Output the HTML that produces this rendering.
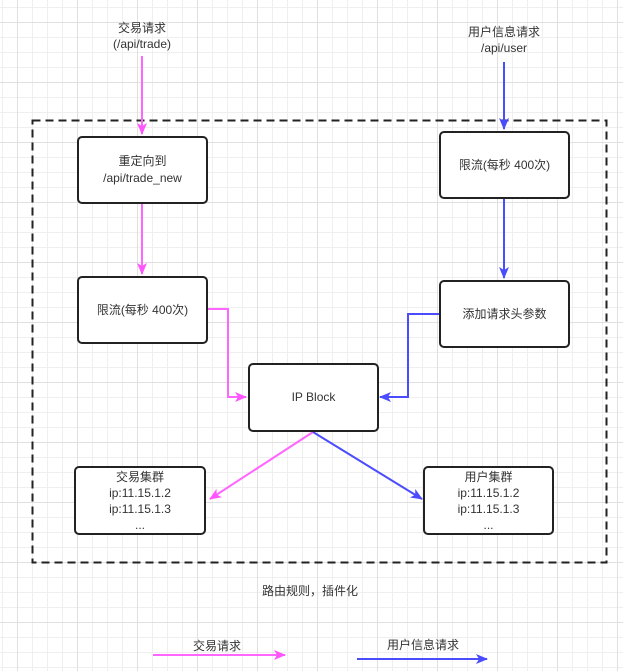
<!DOCTYPE html>
<html><head><meta charset="utf-8"><style>
html,body{margin:0;padding:0}
body{width:623px;height:671px;position:relative;overflow:hidden;background-color:#fff;
background-image:
linear-gradient(to right,#e0e0e0 1px,transparent 1px),
linear-gradient(to bottom,#e0e0e0 1px,transparent 1px),
linear-gradient(to right,#efefef 1px,transparent 1px),
linear-gradient(to bottom,#efefef 1px,transparent 1px);
background-size:60px 60px,60px 60px,15px 15px,15px 15px;
background-position:17px 0,0 22px,2px 0,0 7px;
font-family:"Liberation Sans","Noto Sans CJK SC",sans-serif;color:#333;font-size:12px}
.b{position:absolute;border:2px solid #222;border-radius:5px;background:#fff;box-sizing:border-box;display:flex;align-items:center;justify-content:center;text-align:center;line-height:17px}
.c{line-height:16px}
.t{position:absolute;text-align:center;line-height:16px;white-space:nowrap}
svg{position:absolute;left:0;top:0}
</style></head><body>
<svg width="623" height="671">
<defs>
<marker id="p" markerWidth="12" markerHeight="10" refX="11" refY="5" orient="auto" markerUnits="userSpaceOnUse"><path d="M0,0 L12,5 L0,10 L3,5z" fill="#ff55ff"/></marker>
<marker id="u" markerWidth="12" markerHeight="10" refX="11" refY="5" orient="auto" markerUnits="userSpaceOnUse"><path d="M0,0 L12,5 L0,10 L3,5z" fill="#4c4cff"/></marker>
</defs>
<rect x="32.5" y="120.5" width="574" height="442" fill="none" stroke="#222" stroke-width="2" stroke-dasharray="8,5"/>
<g stroke="#ff66ff" stroke-width="2" fill="none" marker-end="url(#p)">
<path d="M142,56 V134"/>
<path d="M142,204 V274"/>
<path d="M208,309 H228 V397 H246"/>
<path d="M313,432 L210,499"/>
<path d="M153,655 H285"/>
</g>
<g stroke="#4c4cff" stroke-width="2" fill="none" marker-end="url(#u)">
<path d="M504,62 V129"/>
<path d="M504,198 V278"/>
<path d="M439,314 H408 V397 H380"/>
<path d="M313,432 L422,499"/>
<path d="M357,659 H487"/>
</g>
</svg>
<div class="t" style="left:92px;top:20px;width:100px">交易请求<br>(/api/trade)</div>
<div class="t" style="left:454px;top:24px;width:100px">用户信息请求<br>/api/user</div>
<div class="b" style="left:77px;top:136px;width:131px;height:68px">重定向到<br>/api/trade_new</div>
<div class="b" style="left:77px;top:276px;width:131px;height:68px">限流(每秒 400次)</div>
<div class="b" style="left:248px;top:363px;width:131px;height:69px">IP Block</div>
<div class="b" style="left:439px;top:131px;width:131px;height:68px">限流(每秒 400次)</div>
<div class="b" style="left:439px;top:280px;width:131px;height:68px">添加请求头参数</div>
<div class="b c" style="left:74px;top:466px;width:132px;height:69px">交易集群<br>ip:11.15.1.2<br>ip:11.15.1.3<br>...</div>
<div class="b c" style="left:423px;top:466px;width:131px;height:69px">用户集群<br>ip:11.15.1.2<br>ip:11.15.1.3<br>...</div>
<div class="t" style="left:240px;top:583px;width:140px">路由规则，插件化</div>
<div class="t" style="left:177px;top:638px;width:80px">交易请求</div>
<div class="t" style="left:373px;top:637px;width:100px">用户信息请求</div>
</body></html>
